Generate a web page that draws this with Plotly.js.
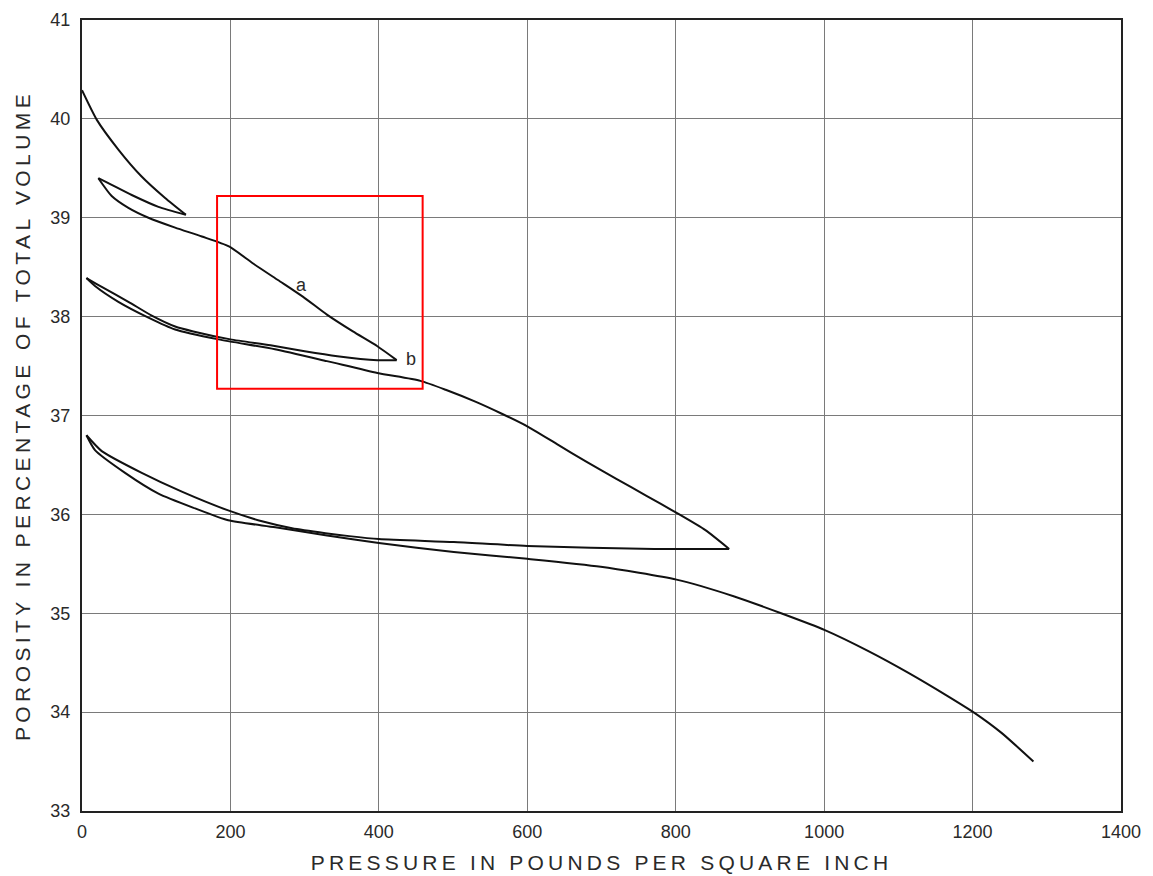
<!DOCTYPE html>
<html>
<head>
<meta charset="utf-8">
<script src="https://cdn.plot.ly/plotly-3.0.1.min.js"></script>
<style>
  html, body { margin: 0; padding: 0; background: #fff; }
  #chart { width: 1153px; height: 876px; }
  .xtitle { letter-spacing: 4.2px; }
  .ytitle { letter-spacing: 4.4px; }
</style>
</head>
<body>
<div id="chart"></div>
<script>
// Pressure (psi) vs porosity (% of total volume)
const load1X   = [0, 20, 49, 80, 112, 140];
const load1Y   = [40.29, 39.99, 39.69, 39.42, 39.20, 39.03];

const unload1X = [140, 103, 67, 35.5, 22];
const unload1Y = [39.03, 39.11, 39.23, 39.35, 39.40];

const reload1X = [22, 40, 62.5, 89.5, 125.5, 161.5, 198, 230, 264, 298, 330, 365, 398, 424];
const reload1Y = [39.40, 39.22, 39.10, 39.00, 38.90, 38.81, 38.71, 38.54, 38.37, 38.20, 38.02, 37.85, 37.70, 37.56];

const unload2X = [424, 398, 344, 300, 254, 200, 150, 125.5, 94, 62.5, 26.6, 6];
const unload2Y = [37.56, 37.56, 37.60, 37.65, 37.71, 37.77, 37.85, 37.90, 38.01, 38.15, 38.30, 38.39];

const reload2X = [6, 17.5, 49, 89.5, 125.5, 184, 260, 330, 398, 456, 490, 530, 565, 600, 640, 680, 720, 760, 800, 840, 872];
const reload2Y = [38.39, 38.31, 38.15, 37.99, 37.87, 37.77, 37.67, 37.55, 37.43, 37.35, 37.26, 37.14, 37.02, 36.89, 36.71, 36.53, 36.36, 36.19, 36.02, 35.84, 35.65];

const unload3X = [872, 771, 600, 501, 400, 360, 328, 283, 242.5, 197, 134.5, 80.5, 26.6, 6];
const unload3Y = [35.65, 35.65, 35.68, 35.72, 35.75, 35.78, 35.81, 35.86, 35.93, 36.04, 36.23, 36.42, 36.64, 36.80];

const reload3X = [6, 17.5, 58, 103, 152.5, 197, 260.5, 328, 400, 501, 600, 699, 801, 879, 942, 1001, 1059, 1113, 1167, 1203, 1239, 1282];
const reload3Y = [36.80, 36.65, 36.42, 36.21, 36.06, 35.94, 35.87, 35.79, 35.71, 35.62, 35.55, 35.47, 35.34, 35.17, 35.00, 34.83, 34.62, 34.40, 34.16, 33.99, 33.79, 33.50];

const xTickVals = [0, 200, 400, 600, 800, 1000, 1200, 1400];
const xTickText = ["0", "200", "400", "600", "800", "1000", "1200", "1400"];
const yTickVals = [33, 34, 35, 36, 37, 38, 39, 40, 41];
const yTickText = ["33", "34", "35", "36", "37", "38", "39", "40", "41"];

const labelText = ["a", "b"];
const labelX = [296, 443];
const labelY = [38.32, 37.57];

const branches = [
  [load1X, load1Y], [unload1X, unload1Y], [reload1X, reload1Y],
  [unload2X, unload2Y], [reload2X, reload2Y],
  [unload3X, unload3Y], [reload3X, reload3Y]
];

const traces = branches.map(b => ({
  x: b[0], y: b[1], type: 'scatter', mode: 'lines',
  line: { color: '#111', width: 2, shape: 'spline', smoothing: 0.6 },
  showlegend: false, hoverinfo: 'skip'
}));

const FONT = 'Liberation Sans, Arial, sans-serif';
const TXT = '#2a2a2a';

const layout = {
  width: 1153, height: 876,
  margin: { l: 82, r: 32, t: 20, b: 65 },
  paper_bgcolor: '#fff', plot_bgcolor: '#fff',
  showlegend: false,
  xaxis: {
    range: [0, 1400], tickvals: xTickVals, ticktext: xTickText,
    showgrid: true, gridcolor: '#7a7a7a', gridwidth: 1,
    showline: true, linecolor: '#222', linewidth: 2, mirror: true,
    ticks: '', zeroline: false, ticklabelstandoff: 3,
    tickfont: { family: FONT, size: 18, color: TXT },
    title: { text: 'PRESSURE IN POUNDS PER SQUARE INCH', standoff: 15,
             font: { family: FONT, size: 21, color: TXT } }
  },
  yaxis: {
    range: [33, 41], tickvals: yTickVals, ticktext: yTickText,
    showgrid: true, gridcolor: '#7a7a7a', gridwidth: 1,
    showline: true, linecolor: '#222', linewidth: 2, mirror: true,
    ticks: '', zeroline: false, ticklabelstandoff: 6,
    tickfont: { family: FONT, size: 18, color: TXT },
    title: { text: 'POROSITY IN PERCENTAGE OF TOTAL VOLUME', standoff: 14,
             font: { family: FONT, size: 21, color: TXT } }
  },
  annotations: labelText.map((t, i) => ({
    x: labelX[i], y: labelY[i], xref: 'x', yref: 'y', text: t,
    showarrow: false, font: { family: FONT, size: 18, color: TXT }
  })),
  shapes: [{
    type: 'rect', xref: 'x', yref: 'y',
    x0: 182, x1: 459, y0: 37.27, y1: 39.22,
    line: { color: '#ff0000', width: 2 }, fillcolor: 'rgba(0,0,0,0)'
  }]
};

Plotly.newPlot('chart', traces, layout, { staticPlot: true, displayModeBar: false });
</script>
</body>
</html>
